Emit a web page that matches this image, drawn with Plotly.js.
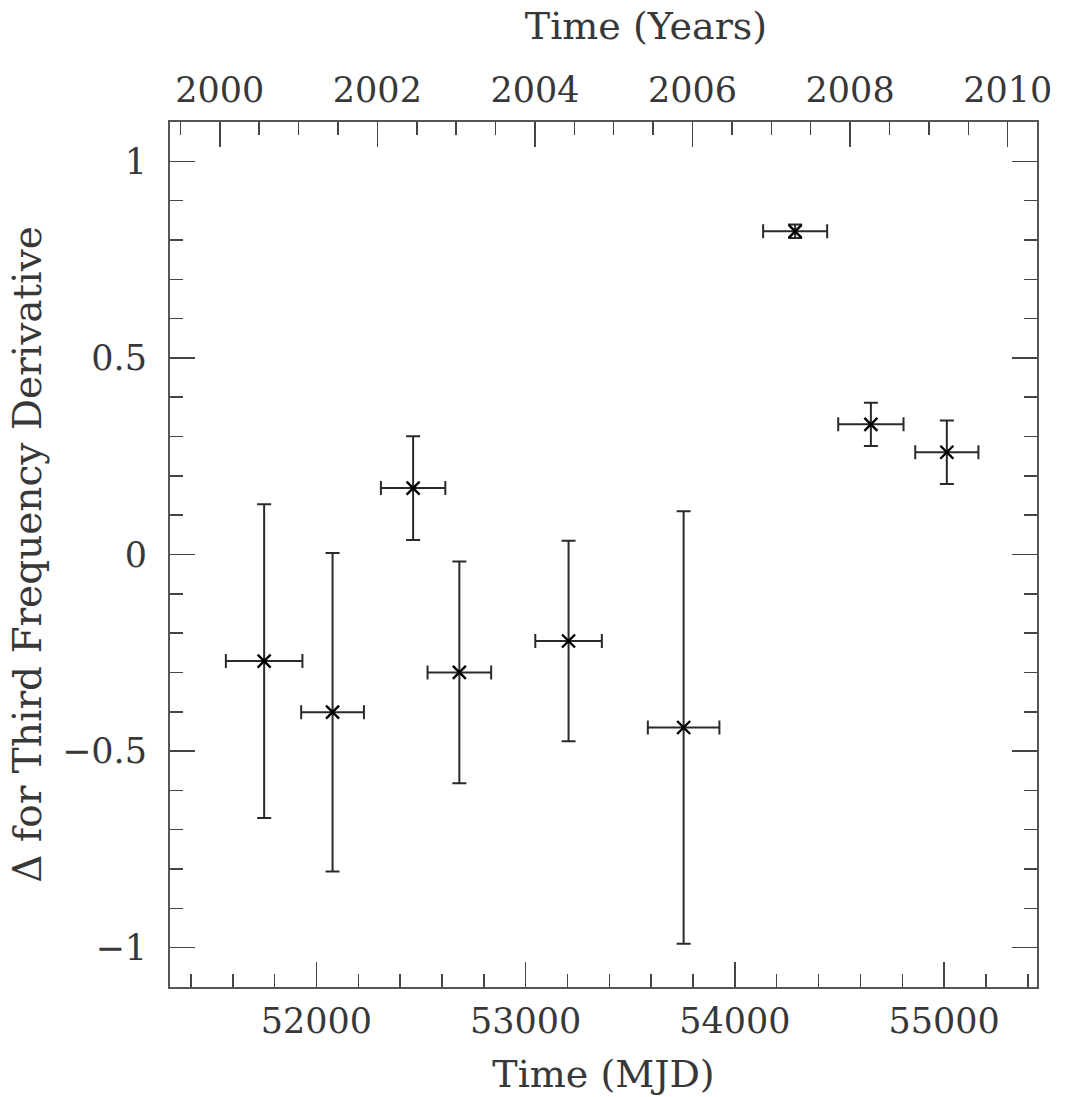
<!DOCTYPE html>
<html>
<head>
<meta charset="utf-8">
<script src="https://cdn.plot.ly/plotly-3.0.1.min.js"></script>
<style>
  html, body { margin: 0; padding: 0; background: #fff; }
  #chart { width: 1066px; height: 1097px; }
</style>
</head>
<body>
<div id="chart"></div>
<script>
"use strict";

// Ölçüm noktaları (MJD) ve yatay hata yarı genişlikleri (gün)
const mjd = [51750, 52077, 52462, 52683, 53205, 53755, 54288, 54650, 55013];
const mjdErr = [183, 150, 154, 152, 159, 171, 153, 156, 151];

// Üçüncü frekans türevindeki değişim ve hataları
const delta = [-0.271, -0.401, 0.169, -0.300, -0.220, -0.440, 0.822, 0.331, 0.260];
const deltaErr = [0.399, 0.405, 0.132, 0.282, 0.255, 0.550, 0.017, 0.055, 0.081];

const mjdTicks = [52000, 53000, 54000, 55000];
const yearTicks = [2000, 2002, 2004, 2006, 2008, 2010];

// MJD -> yıl (üst eksen yalnızca görünsün diye, görünmez iz)
const mjdToYear = m => 2000 + (m - 51544) / 365.25;

const inkColor = '#2a2a2a';
const frameColor = '#555';
const tickColor = '#444';
const tickFont = { family: 'DejaVu Serif, serif', size: 35, color: '#383838' };
const xTitleFont = { family: 'DejaVu Serif, serif', size: 38, color: '#383838' };
const yTitleFont = { family: 'DejaVu Serif, serif', size: 39, color: '#383838' };

const trace = {
    x: mjd,
    y: delta,
    type: 'scatter',
    mode: 'markers',
    marker: { symbol: 'x-thin', size: 13, line: { width: 2.4, color: '#000' } },
    error_x: { type: 'data', array: mjdErr, visible: true, color: inkColor, thickness: 2, width: 7 },
    error_y: { type: 'data', array: deltaErr, visible: true, color: inkColor, thickness: 2, width: 7 },
    hoverinfo: 'x+y',
    showlegend: false
};

const yearTrace = {
    x: mjd.map(mjdToYear),
    y: delta,
    xaxis: 'x2',
    type: 'scatter',
    mode: 'markers',
    marker: { opacity: 0 },
    hoverinfo: 'skip',
    showlegend: false
};

const axisStyle = {
    ticks: 'inside',
    ticklen: 25,
    tickwidth: 1.5,
    tickcolor: tickColor,
    showline: true,
    linecolor: frameColor,
    linewidth: 2,
    showgrid: false,
    zeroline: false,
    tickfont: tickFont
};

const layout = {
    width: 1066,
    height: 1097,
    paper_bgcolor: '#fff',
    plot_bgcolor: '#fff',
    font: tickFont,
    margin: { l: 170, r: 29, t: 122, b: 110 },
    // üst başlık referansta biraz sağa kaymış
    title: {
        text: 'Time (Years)',
        font: xTitleFont,
        x: 646 / 1066,
        xanchor: 'center',
        xref: 'container',
        y: 1 - 26 / 1097,
        yanchor: 'middle',
        yref: 'container'
    },
    xaxis: {
        ...axisStyle,
        range: [51300, 55444],
        tickvals: mjdTicks,
        ticktext: mjdTicks.map(String),
        minor: { dtick: 200, tick0: 0, ticks: 'inside', ticklen: 13, tickwidth: 1.5, tickcolor: tickColor },
        mirror: false,
        ticklabelstandoff: 2,
        title: { text: 'Time (MJD)', font: xTitleFont, standoff: 20 }
    },
    xaxis2: {
        ...axisStyle,
        overlaying: 'x',
        side: 'top',
        range: [1999.368, 2010.372],
        tickvals: yearTicks,
        ticktext: yearTicks.map(String),
        minor: { dtick: 0.5, tick0: 0, ticks: 'inside', ticklen: 13, tickwidth: 1.5, tickcolor: tickColor },
        ticklabelstandoff: 4
    },
    yaxis: {
        ...axisStyle,
        range: [-1.1, 1.1],
        dtick: 0.5,
        tick0: 0,
        minor: { dtick: 0.1, ticks: 'inside', ticklen: 13, tickwidth: 1.5, tickcolor: tickColor },
        mirror: 'ticks',
        ticklabelstandoff: 14,
        title: { text: 'Δ for Third Frequency Derivative', font: yTitleFont, standoff: 8 }
    }
};

Plotly.newPlot('chart', [trace, yearTrace], layout, { displayModeBar: false, staticPlot: true });
</script>
</body>
</html>
